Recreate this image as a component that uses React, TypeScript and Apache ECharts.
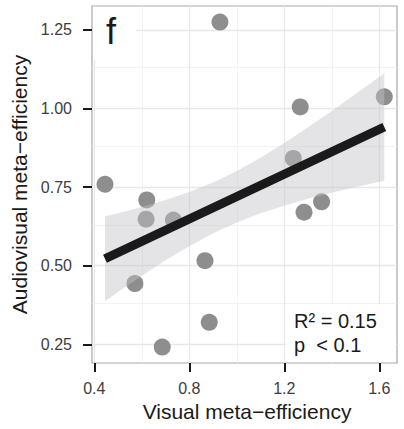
import React, { useEffect, useRef } from "react";
import * as echarts from "echarts";

// Scatter data: visual vs audiovisual meta-efficiency
const visual = [0.445, 0.621, 0.618, 0.733, 0.571, 0.686, 0.866, 0.884, 0.929, 1.238, 1.267, 1.283, 1.357, 1.621];
const audiovisual = [0.759, 0.709, 0.648, 0.645, 0.443, 0.241, 0.516, 0.32, 1.275, 0.841, 1.005, 0.67, 0.703, 1.037];

// Linear fit
const fitX = [0.445, 1.621];
const fitY = [0.522, 0.941];

// Confidence band
const bandX = [0.445, 0.5, 0.6, 0.7, 0.8, 0.9, 1.0, 1.1, 1.2, 1.3, 1.4, 1.5, 1.621];
const bandLower = [0.387, 0.416, 0.468, 0.517, 0.562, 0.603, 0.637, 0.667, 0.691, 0.713, 0.732, 0.75, 0.77];
const bandUpper = [0.657, 0.667, 0.687, 0.709, 0.734, 0.765, 0.801, 0.843, 0.89, 0.94, 0.992, 1.046, 1.112];

// Axis ticks and grid lines
const xTicks = [0.4, 0.8, 1.2, 1.6];
const xMinor = [0.6, 1.0, 1.4];
const yTicks = [0.25, 0.5, 0.75, 1.0, 1.25];
const yMinor = [0.375, 0.625, 0.875, 1.125];

const FONT = "'Liberation Sans', Arial, Helvetica, sans-serif";

export default function App() {
  const ref = useRef<HTMLDivElement>(null);

  useEffect(() => {
    if (!ref.current) return;
    const chart = echarts.init(ref.current, null, { renderer: "svg" });

    const gridLines = (vals: number[], key: "xAxis" | "yAxis", width: number, color: string) =>
      vals.map((v) => ({ [key]: v, lineStyle: { color, width, type: "solid" } }));

    const option: any = {
      animation: false,
      grid: {
        left: 92,
        top: 6,
        width: 305,
        height: 357,
        show: true,
        backgroundColor: "#ffffff",
        borderColor: "#a8a8a8",
        borderWidth: 1.2,
      },
      xAxis: {
        type: "value",
        min: 0.3903,
        max: 1.6745,
        axisLine: { show: false },
        splitLine: { show: false },
        axisTick: {
          show: true,
          customValues: xTicks,
          length: 9,
          lineStyle: { color: "#1a1a1a", width: 2 },
        },
        axisLabel: {
          customValues: xTicks,
          formatter: (v: number) => v.toFixed(1),
          fontSize: 16,
          fontFamily: FONT,
          color: "#3d3d3d",
          margin: 17,
        },
        name: "Visual meta\u2212efficiency",
        nameLocation: "middle",
        nameGap: 37,
        nameTextStyle: { fontSize: 21, fontFamily: FONT, color: "#1a1a1a", padding: [0, 0, 0, 5] },
      },
      yAxis: {
        type: "value",
        min: 0.1905,
        max: 1.326,
        axisLine: { show: false },
        splitLine: { show: false },
        axisTick: {
          show: true,
          customValues: yTicks,
          length: 9,
          lineStyle: { color: "#1a1a1a", width: 2 },
        },
        axisLabel: {
          customValues: yTicks,
          formatter: (v: number) => v.toFixed(2),
          fontSize: 16,
          fontFamily: FONT,
          color: "#3d3d3d",
          margin: 20,
        },
        name: "Audiovisual meta\u2212efficiency",
        nameLocation: "middle",
        nameGap: 61,
        nameTextStyle: { fontSize: 21, fontFamily: FONT, color: "#1a1a1a" },
      },
      graphic: [
        {
          type: "rect",
          z: 1.5,
          silent: true,
          shape: { x: 93, y: 7, width: 43, height: 53 },
          style: { fill: "#ffffff" },
        },
        {
          type: "text",
          z: 1.6,
          silent: true,
          style: {
            x: 106,
            y: 31,
            text: "f",
            fontSize: 36,
            fontFamily: FONT,
            fill: "#1a1a1a",
            verticalAlign: "middle",
            align: "left",
          },
        },
        {
          type: "rect",
          z: 1.5,
          silent: true,
          shape: { x: 286, y: 304, width: 110, height: 58 },
          style: { fill: "#ffffff" },
        },
        {
          type: "text",
          z: 1.6,
          silent: true,
          style: {
            x: 294,
            y: 321,
            text: "R\u00b2 = 0.15",
            fontSize: 20,
            fontFamily: FONT,
            fill: "#1a1a1a",
            verticalAlign: "middle",
            align: "left",
          },
        },
        {
          type: "text",
          z: 1.6,
          silent: true,
          style: {
            x: 294,
            y: 345,
            text: "p  < 0.1",
            fontSize: 20,
            fontFamily: FONT,
            fill: "#1a1a1a",
            verticalAlign: "middle",
            align: "left",
          },
        },
      ],
      series: [
        {
          type: "line",
          z: 1,
          data: [],
          silent: true,
          markLine: {
            z: 1,
            silent: true,
            symbol: "none",
            label: { show: false },
            animation: false,
            data: [
              ...gridLines(xMinor, "xAxis", 0.8, "#efefef"),
              ...gridLines(yMinor, "yAxis", 0.8, "#efefef"),
              ...gridLines(xTicks, "xAxis", 1.3, "#e8e8e8"),
              ...gridLines(yTicks, "yAxis", 1.3, "#e8e8e8"),
            ],
          },
        },
        {
          type: "scatter",
          z: 2,
          symbolSize: 17,
          itemStyle: { color: "#8e8e8e", opacity: 1 },
          data: visual.map((x, i) => [x, audiovisual[i]]),
        },
        {
          type: "custom",
          z: 3,
          silent: true,
          data: [[0.9, 0.7]],
          renderItem: (_params: any, api: any) => {
            const pts: number[][] = [];
            for (let i = 0; i < bandX.length; i++) pts.push(api.coord([bandX[i], bandUpper[i]]));
            for (let i = bandX.length - 1; i >= 0; i--) pts.push(api.coord([bandX[i], bandLower[i]]));
            return {
              type: "polygon",
              shape: { points: pts, smooth: 0 },
              style: { fill: "rgba(196,196,199,0.45)" },
            };
          },
        },
        {
          type: "line",
          z: 4,
          symbol: "none",
          silent: true,
          lineStyle: { color: "#1a1a1a", width: 9, cap: "butt" },
          data: fitX.map((x, i) => [x, fitY[i]]),
        },
      ],
    };

    chart.setOption(option);
    return () => chart.dispose();
  }, []);

  return (
    <div
      ref={ref}
      style={{ position: "fixed", left: 0, top: 0, width: 404, height: 429, background: "#ffffff" }}
    />
  );
}
